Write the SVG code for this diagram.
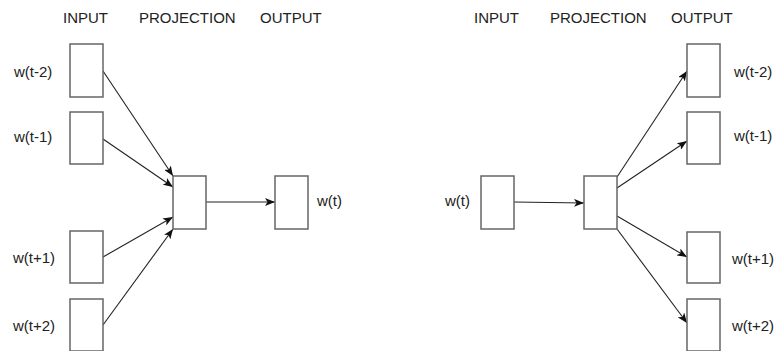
<svg xmlns="http://www.w3.org/2000/svg" width="776" height="351" viewBox="0 0 776 351">
<defs>
<marker id="arr" markerUnits="userSpaceOnUse" markerWidth="11" markerHeight="8" refX="10" refY="4" orient="auto">
<path d="M0,0 L10,4 L0,8 L2.5,4 Z" fill="#111"/>
</marker>
<style>
.box{fill:#fff;stroke:#666;stroke-width:1.5}
.lbl{font-family:"Liberation Sans",Arial,sans-serif;font-size:15px;fill:#222;dominant-baseline:central}
.edge{stroke:#222;stroke-width:1.1;fill:none;marker-end:url(#arr)}
</style>
</defs>
<rect width="776" height="351" fill="#fff"/>
<g id="headers">
<text class="lbl" x="63" y="17">INPUT</text>
<text class="lbl" x="139" y="17">PROJECTION</text>
<text class="lbl" x="260" y="17">OUTPUT</text>
<text class="lbl" x="474" y="17">INPUT</text>
<text class="lbl" x="550" y="17">PROJECTION</text>
<text class="lbl" x="671" y="17">OUTPUT</text>
</g>
<g id="connectors">
<line class="edge" x1="103" y1="71" x2="173" y2="176"/>
<line class="edge" x1="103" y1="139" x2="173" y2="187"/>
<line class="edge" x1="103" y1="257" x2="173" y2="217"/>
<line class="edge" x1="103" y1="325" x2="173" y2="229"/>
<line class="edge" x1="206" y1="202" x2="275" y2="202"/>
<line class="edge" x1="514" y1="202" x2="584" y2="203"/>
<line class="edge" x1="617" y1="177" x2="687" y2="71"/>
<line class="edge" x1="617" y1="188" x2="687" y2="141"/>
<line class="edge" x1="617" y1="216" x2="687" y2="257"/>
<line class="edge" x1="617" y1="229" x2="687" y2="323"/>
</g>
<g id="cbow-in1"><rect class="box" x="70" y="44" width="33" height="53"/><text class="lbl" x="14" y="71">w(t-2)</text></g>
<g id="cbow-in2"><rect class="box" x="70" y="112" width="33" height="52"/><text class="lbl" x="14" y="136">w(t-1)</text></g>
<g id="cbow-in3"><rect class="box" x="70" y="231" width="33" height="52"/><text class="lbl" x="13" y="257">w(t+1)</text></g>
<g id="cbow-in4"><rect class="box" x="70" y="299" width="33" height="52"/><text class="lbl" x="13" y="325">w(t+2)</text></g>
<g id="cbow-proj"><rect class="box" x="173" y="176" width="33" height="53"/></g>
<g id="cbow-out"><rect class="box" x="275" y="176" width="33" height="53"/><text class="lbl" x="317" y="200">w(t)</text></g>
<g id="sg-in"><rect class="box" x="481" y="176" width="33" height="53"/><text class="lbl" x="445" y="200">w(t)</text></g>
<g id="sg-proj"><rect class="box" x="584" y="176" width="33" height="53"/></g>
<g id="sg-out1"><rect class="box" x="687" y="44" width="33" height="53"/><text class="lbl" x="734" y="71">w(t-2)</text></g>
<g id="sg-out2"><rect class="box" x="687" y="112" width="33" height="52"/><text class="lbl" x="734" y="135">w(t-1)</text></g>
<g id="sg-out3"><rect class="box" x="687" y="232" width="33" height="51"/><text class="lbl" x="732" y="258">w(t+1)</text></g>
<g id="sg-out4"><rect class="box" x="687" y="299" width="33" height="52"/><text class="lbl" x="732" y="325">w(t+2)</text></g>
</svg>
